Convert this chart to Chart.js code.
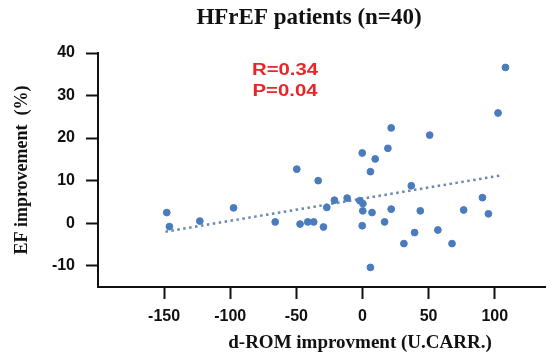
<!DOCTYPE html>
<html lang="en">
<head>
    <meta charset="UTF-8">
    <title>HFrEF patients</title>
    <style>
        body { margin: 0; background: #fff; }
        #wrap { width: 551px; height: 352px; }
    </style>
</head>
<body>
    <div id="wrap"><canvas id="chart" width="551" height="352"></canvas></div>
    <script src="https://cdn.jsdelivr.net/npm/chart.js"></script>
    <script>
        // d-ROM improvement (x) vs EF improvement (y)
        const dromValues = [-148, -146, -123, -97.5, -66, -49.7, -47.2, -41.4, -36.9, -33.5,
                            -29.5, -27, -21.2, -11.6, -2, 0.3, -0.2, 0.2, -0.2, 6,
                            6, 7.2, 9.6, 16.7, 19.2, 21.7, 21.7, 31.3, 36.9, 39.4,
                            43.7, 50.8, 57, 67.7, 76.5, 90.7, 95.2, 102.5, 108.1];
        const efValues = [2.5, -0.8, 0.5, 3.6, 0.3, 12.7, -0.2, 0.3, 0.3, 10,
                          -0.9, 3.7, 5.4, 5.9, 5.3, 4.6, 16.5, 2.9, -0.6, -10.4,
                          12.1, 2.5, 15.1, 0.3, 17.6, 22.4, 3.3, -4.8, 8.8, -2.2,
                          2.9, 20.7, -1.6, -4.8, 3.1, 6, 2.2, 25.9, 36.6];
        // regression line end points
        const fitX = [-149, 106];
        const fitY = [-2, 11.3];
        const xTicks = [-150, -100, -50, 0, 50, 100];
        const yTicks = [-10, 0, 10, 20, 30, 40];
        const statLines = ['R=0.34', 'P=0.04'];
        const chartTitle = 'HFrEF patients (n=40)';
        const xTitle = 'd-ROM improvment (U.CARR.)';

        const ctx = document.getElementById('chart').getContext('2d');
        const serif = '"Liberation Serif", "Times New Roman", serif';
        const sans = '"Liberation Sans", Arial, sans-serif';

        // title, x-axis caption and the R / P note
        const extraText = {
            id: 'extraText',
            afterDraw(chart) {
                const c = chart.ctx;
                c.save();
                c.textAlign = 'center';
                c.textBaseline = 'middle';
                c.fillStyle = '#111';
                c.font = 'bold 23px ' + serif;
                c.fillText(chartTitle, 309, 18);
                c.font = 'bold 19px ' + serif;
                c.fillText(xTitle, 360, 343);

                c.fillStyle = '#e8262a';
                c.font = 'bold 16px ' + sans;
                statLines.forEach((t, i) => {
                    c.save();
                    c.translate(285, 71 + i * 21);
                    c.scale(1.27, 1);
                    c.fillText(t, 0, 0);
                    c.restore();
                });
                c.restore();
            }
        };

        new Chart(ctx, {
            type: 'scatter',
            data: {
                datasets: [
                    {
                        data: dromValues.map((x, i) => ({ x: x, y: efValues[i] })),
                        backgroundColor: '#4a7cbd',
                        borderColor: '#4a7cbd',
                        pointRadius: 3.4,
                        pointHoverRadius: 3.4
                    },
                    {
                        type: 'line',
                        data: fitX.map((x, i) => ({ x: x, y: fitY[i] })),
                        borderColor: '#6a88b0',
                        borderWidth: 2.5,
                        borderDash: [2.5, 3.5],
                        pointRadius: 0,
                        fill: false
                    }
                ]
            },
            options: {
                responsive: false,
                animation: false,
                layout: { padding: { left: 0, right: 6, top: 53, bottom: 0 } },
                plugins: {
                    legend: { display: false },
                    tooltip: { enabled: false },
                    title: { display: false }
                },
                scales: {
                    x: {
                        type: 'linear',
                        min: -200,
                        max: 138,
                        afterBuildTicks: s => { s.ticks = xTicks.map(v => ({ value: v })); },
                        afterFit: s => { s.height = 65; },
                        grid: { drawOnChartArea: false, drawTicks: true, tickLength: 12, tickWidth: 2, tickColor: '#111' },
                        border: { display: true, color: '#111', width: 2 },
                        ticks: { color: '#111', padding: 8, font: { family: sans, size: 16, weight: 'bold' } }
                    },
                    y: {
                        min: -15,
                        max: 40,
                        afterBuildTicks: s => { s.ticks = yTicks.map(v => ({ value: v })); },
                        afterFit: s => { s.width = 98; },
                        grid: { drawOnChartArea: false, drawTicks: true, tickLength: 12, tickWidth: 2, tickColor: '#111' },
                        border: { display: true, color: '#111', width: 2 },
                        ticks: { color: '#111', padding: 11, font: { family: sans, size: 16, weight: 'bold' } },
                        title: {
                            display: true,
                            text: 'EF improvement  (%)',
                            color: '#111',
                            font: { family: serif, size: 18, weight: 'bold' },
                            padding: { top: 12, bottom: 0 }
                        }
                    }
                }
            },
            plugins: [extraText]
        });
    </script>
</body>
</html>
